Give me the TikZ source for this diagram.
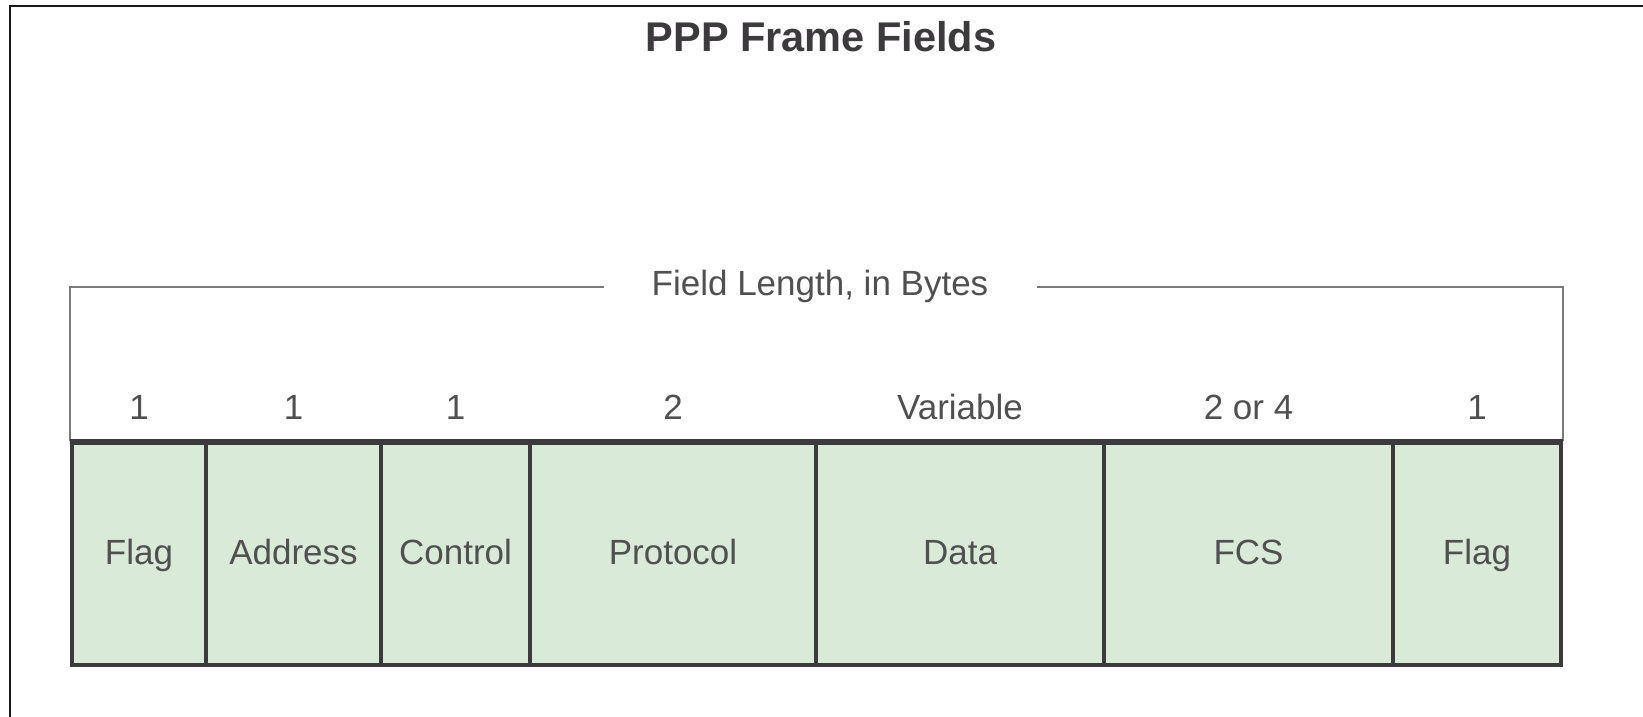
\documentclass[tikz,border=0pt]{standalone}
\usepackage{fontspec}
\setmainfont{Liberation Sans}
\definecolor{boxfill}{HTML}{DAEAD9}
\definecolor{boxline}{HTML}{3C3A3C}
\definecolor{txt}{HTML}{505050}
\definecolor{brk}{HTML}{7A7A7A}
\begin{document}
\begin{tikzpicture}[x=1pt,y=-1pt,
  field/.style={draw=boxline, fill=boxfill, line width=4pt, inner sep=0pt,
    minimum height=222pt, text height=25pt, text depth=0pt,
    font=\fontsize{35}{40}\selectfont, text=txt},
  len/.style={anchor=base, inner sep=0pt, font=\fontsize{35}{40}\selectfont, text=txt},
  bracket/.style={draw=brk, line width=2pt},
  frame/.style={draw=black!90, line width=2pt}]
\useasboundingbox (0,0) rectangle (1643,717);
\fill[white] (0,0) rectangle (1643,717);
\draw[frame] (10,717) -- (10,6) -- (1643,6);
\node[anchor=base, inner sep=0pt, font=\fontsize{41.5}{46}\selectfont\bfseries, text=boxline] (title) at (821,52) {PPP Frame Fields};
% fields
\foreach \l/\r/\n/\t/\s in {72/206/f1/Flag/1, 206/381/f2/Address/1, 381/530/f3/Control/1,
  530/816/f4/Protocol/2, 816/1104/f5/Data/Variable, 1104/1393/f6/FCS/2 or 4, 1393/1561/f7/Flag/1}{
  \node[field, minimum width=\r-\l, text depth=4pt] (\n) at ({(\l+\r)/2},554) {\t};
  \node[len] (len\n) at ({(\l+\r)/2},419) {\s};
}
\node[inner xsep=48pt, inner ysep=0pt, text height=25pt, text depth=8pt,
  font=\fontsize{35}{40}\selectfont, text=txt] (fl) at (820,287) {Field Length, in Bytes};
\draw[bracket] (f1.north west) -- (f1.north west |- fl.west) -- (fl.west);
\draw[bracket] (fl.east) -- (f7.north east |- fl.east) -- (f7.north east);
% redraw box tops over bracket ends
\foreach \n in {f1,f2,f3,f4,f5,f6,f7}{\draw[boxline, line width=4pt] (\n.north west) -- (\n.north east);}
\end{tikzpicture}
\end{document}
